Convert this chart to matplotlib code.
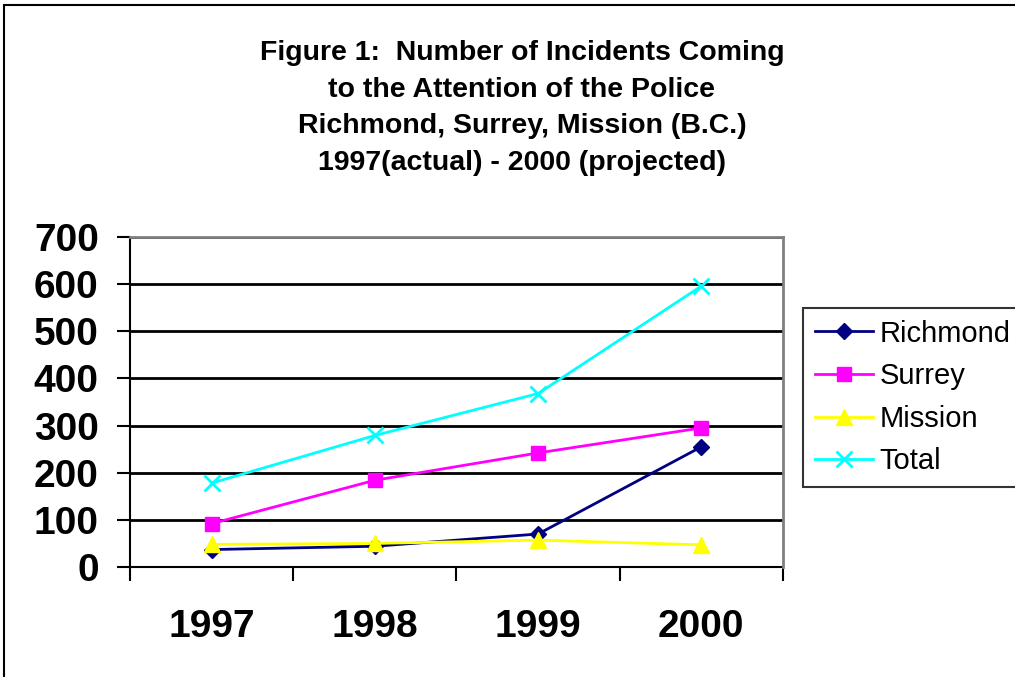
import matplotlib
matplotlib.use("Agg")
import matplotlib.pyplot as plt
from matplotlib.patches import Rectangle

years = ["1997", "1998", "1999", "2000"]
richmond = [37, 44, 70, 255]
surrey = [92, 184, 242, 295]
mission = [48, 50, 57, 47]
total = [178, 279, 368, 596]
yticks = [0, 100, 200, 300, 400, 500, 600, 700]

plt.rcParams['font.family'] = ['Liberation Sans', 'DejaVu Sans']

W, H = 1015, 677
fig = plt.figure(figsize=(W / 100, H / 100), dpi=100)

# outer chart frame (cut off at right and bottom)
fig.patches.append(Rectangle((4 / W, -0.1), 1.2, 1 - 5 / H + 0.1, transform=fig.transFigure,
                             fill=False, edgecolor='black', linewidth=1.5))

ax = fig.add_axes([130 / W, (H - 567) / H, 653 / W, 330 / H])
x = list(range(len(years)))

ax.plot(x, richmond, color='#000080', marker='D', markersize=8, linewidth=2, label='Richmond', zorder=5)
ax.plot(x, surrey, color='#FF00FF', marker='s', markersize=10, linewidth=2, label='Surrey', zorder=5)
ax.plot(x, mission, color='#FFFF00', marker='^', markersize=11, linewidth=2, label='Mission', zorder=5)
ax.plot(x, total, color='#00FFFF', marker='x', markersize=11, markeredgewidth=2, linewidth=2,
        label='Total', zorder=5)

ax.set_xlim(-0.5, len(years) - 0.5)
ax.set_ylim(0, 700)
ax.set_yticks(yticks)
ax.set_yticklabels([str(v) for v in yticks], fontsize=28, fontweight='bold')
ax.yaxis.grid(True, color='black', linewidth=2)
ax.set_axisbelow(True)

ax.set_xticks([i - 0.5 for i in range(len(years) + 1)])
ax.set_xticklabels([])
ax.set_xticks(x, minor=True)
ax.set_xticklabels(years, minor=True, fontsize=28, fontweight='bold')
ax.tick_params(axis='x', which='major', direction='out', length=10, width=1.5)
ax.tick_params(axis='x', which='minor', length=0, pad=30)
ax.tick_params(axis='y', direction='out', length=9.5, width=1.5, pad=13)

for side in ['top', 'right']:
    ax.spines[side].set_color('#808080')
    ax.spines[side].set_linewidth(2)
    ax.spines[side].set_zorder(3)
ax.spines['left'].set_linewidth(1.5)
ax.spines['bottom'].set_linewidth(1.5)

fig.text(522 / W, 1 - 108 / H,
         "Figure 1:  Number of Incidents Coming\nto the Attention of the Police\n"
         "Richmond, Surrey, Mission (B.C.)\n1997(actual) - 2000 (projected)",
         ha='center', va='center', fontsize=20.5, fontweight='bold', linespacing=1.53)

leg = fig.legend(loc='upper left', bbox_to_anchor=(803 / W, 1 - 308 / H), fontsize=21,
                 frameon=True, fancybox=False, edgecolor='black', handlelength=2.0,
                 handletextpad=0.22, labelspacing=0.5, borderpad=0.4, borderaxespad=0)
leg.get_frame().set_linewidth(1.5)

fig.savefig("out.png", dpi=100)
